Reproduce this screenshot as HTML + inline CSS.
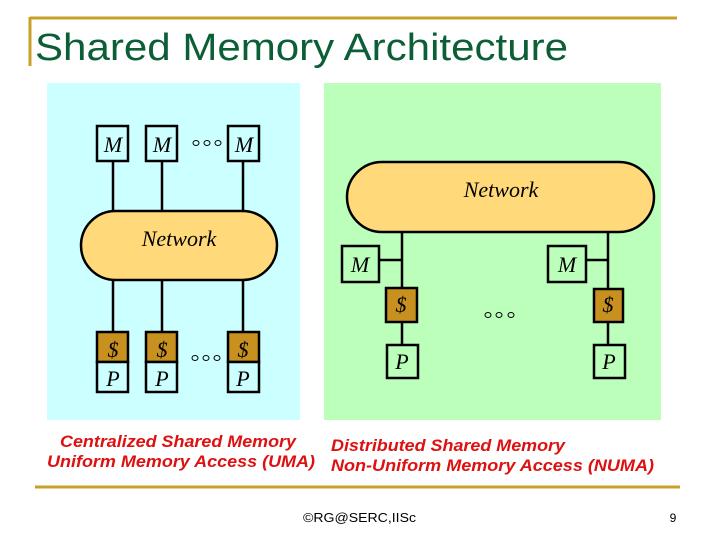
<!DOCTYPE html>
<html><head><meta charset="utf-8"><style>
html,body{margin:0;padding:0;background:#fff;}
svg{display:block;}
</style></head><body>
<svg width="720" height="540" viewBox="0 0 720 540" xmlns="http://www.w3.org/2000/svg">
<rect width="720" height="540" fill="#fff"/>
<line x1="30" y1="18" x2="677" y2="18" stroke="#c8a02a" stroke-width="3"/>
<line x1="30" y1="17" x2="30" y2="66" stroke="#c8a02a" stroke-width="3"/>
<text x="35" y="60" font-family="Liberation Sans, sans-serif" font-size="38" fill="#0b5e35" textLength="533" lengthAdjust="spacingAndGlyphs">Shared Memory Architecture</text>

<rect x="47" y="83" width="253" height="337" fill="#ccffff"/>
<rect x="324" y="83" width="337" height="337" fill="#bbffbb"/>

<g stroke="#000" stroke-width="2.5">
<line x1="113" y1="161" x2="113" y2="333"/>
<line x1="162" y1="161" x2="162" y2="333"/>
<line x1="243" y1="161" x2="243" y2="333"/>
<rect x="97" y="126" width="31" height="35" fill="#ccffff"/>
<rect x="146" y="126" width="31" height="35" fill="#ccffff"/>
<rect x="228" y="126" width="31" height="35" fill="#ccffff"/>
<rect x="81" y="211" width="196" height="69" rx="34.5" fill="#ffd97a"/>
<rect x="97" y="332" width="31" height="30" fill="#c8901e"/>
<rect x="146" y="332" width="31" height="30" fill="#c8901e"/>
<rect x="228" y="332" width="31" height="30" fill="#c8901e"/>
<rect x="97" y="362" width="31" height="30" fill="#ccffff"/>
<rect x="146" y="362" width="31" height="30" fill="#ccffff"/>
<rect x="228" y="362" width="31" height="30" fill="#ccffff"/>
<line x1="402" y1="232" x2="402" y2="346"/>
<line x1="608" y1="232" x2="608" y2="346"/>
<line x1="379" y1="260" x2="402" y2="260"/>
<line x1="586" y1="260" x2="608" y2="260"/>
<rect x="347" y="162" width="307" height="70" rx="35" fill="#ffd97a"/>
<rect x="342" y="246" width="37" height="36" fill="#bbffbb"/>
<rect x="548" y="246" width="38" height="36" fill="#bbffbb"/>
<rect x="386" y="288" width="31" height="34" fill="#c8901e"/>
<rect x="594" y="289" width="29" height="33" fill="#c8901e"/>
<rect x="387" y="345" width="31" height="33" fill="#bbffbb"/>
<rect x="594" y="345" width="31" height="33" fill="#bbffbb"/>
</g>
<g font-family="Liberation Serif, serif" font-style="italic" font-size="22" fill="#000" text-anchor="middle">
<text x="113" y="152">M</text><text x="162" y="152">M</text><text x="244" y="152">M</text>
<text x="179" y="246">Network</text>
<text x="113" y="357">$</text><text x="162" y="357">$</text><text x="243" y="357">$</text>
<text x="113" y="386">P</text><text x="162" y="386">P</text><text x="243" y="386">P</text>
<text x="501" y="197">Network</text>
<text x="360" y="272">M</text><text x="567" y="272">M</text>
<text x="401" y="312">$</text><text x="608" y="312">$</text>
<text x="402" y="369">P</text><text x="609" y="369">P</text>
</g>
<g fill="none" stroke="#000" stroke-width="1">
<ellipse cx="196" cy="143" rx="3" ry="2.5"/><ellipse cx="207" cy="143" rx="3" ry="2.5"/><ellipse cx="218" cy="143" rx="3" ry="2.5"/>
<ellipse cx="195" cy="358" rx="3" ry="2.5"/><ellipse cx="206" cy="358" rx="3" ry="2.5"/><ellipse cx="217" cy="358" rx="3" ry="2.5"/>
<ellipse cx="488" cy="315" rx="3" ry="2.5"/><ellipse cx="499" cy="315" rx="3" ry="2.5"/><ellipse cx="511" cy="315" rx="3" ry="2.5"/>
</g>
<g font-family="Liberation Sans, sans-serif" font-weight="bold" font-style="italic" font-size="17" fill="#dd1111" lengthAdjust="spacingAndGlyphs">
<text x="60" y="447" textLength="236" lengthAdjust="spacingAndGlyphs">Centralized Shared Memory</text>
<text x="47" y="467" textLength="268" lengthAdjust="spacingAndGlyphs">Uniform Memory Access (UMA)</text>
<text x="331" y="451" textLength="234" lengthAdjust="spacingAndGlyphs">Distributed Shared Memory</text>
<text x="331" y="471" textLength="323" lengthAdjust="spacingAndGlyphs">Non-Uniform Memory Access (NUMA)</text>
</g>
<line x1="35" y1="487" x2="680" y2="487" stroke="#c8a02a" stroke-width="3"/>
<text x="303" y="522" font-family="Liberation Sans, sans-serif" font-size="13" fill="#000" textLength="113" lengthAdjust="spacingAndGlyphs">©RG@SERC,IISc</text>
<text x="673" y="522" text-anchor="middle" font-family="Liberation Sans, sans-serif" font-size="12" fill="#000">9</text>
</svg>
</body></html>
